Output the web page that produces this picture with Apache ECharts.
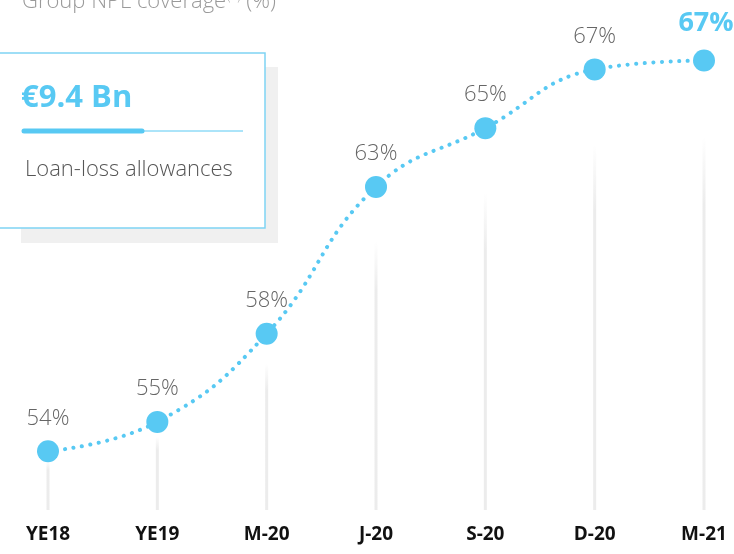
<!DOCTYPE html>
<html>
<head>
<meta charset="utf-8">
<script src="https://cdn.jsdelivr.net/npm/echarts@6/dist/echarts.min.js"></script>
<style>
  html, body { margin: 0; padding: 0; background: #ffffff; }
  #chart { width: 734px; height: 554px; }
</style>
</head>
<body>
<div id="chart"></div>
<script>
// Group NPL coverage by period (%)
const periods = ['YE18', 'YE19', 'M-20', 'J-20', 'S-20', 'D-20', 'M-21'];
const coverage = [54.0, 55.0, 58.0, 63.0, 65.0, 67.0, 67.3];

const BLUE = '#58C9F3';
const FONT_LIGHT = '"Open Sans", "Noto Sans", sans-serif';

const chart = echarts.init(document.getElementById('chart'), null, { renderer: 'canvas' });

const lastIdx = coverage.length - 1;

chart.setOption({
  backgroundColor: '#ffffff',
  animation: false,
  title: {
    left: 22,
    top: -9,
    padding: 0,
    text: '{main|Group NPL coverage}{sup|(1)}{main| (%)}',
    textStyle: {
      rich: {
        main: { fontFamily: FONT_LIGHT, fontSize: 22, fontWeight: 300, color: '#9a9a9a' },
        sup: { fontFamily: FONT_LIGHT, fontSize: 12, fontWeight: 300, color: '#9a9a9a', verticalAlign: 'top', padding: [0, 0, 9, 1] }
      }
    }
  },
  grid: { left: 48, right: 30, top: 40, bottom: 44, containLabel: false },
  xAxis: {
    type: 'category',
    data: periods,
    boundaryGap: false,
    axisLine: { show: false },
    axisTick: { show: false },
    splitLine: { show: false },
    axisLabel: {
      margin: 15,
      fontFamily: '"Open Sans", "Noto Sans", sans-serif',
      fontWeight: 'bold',
      fontSize: 19,
      color: '#111111'
    }
  },
  yAxis: {
    type: 'value',
    min: 52,
    max: 68,
    show: false
  },
  series: [
    {
      // faded vertical stems under each point
      type: 'bar',
      data: coverage,
      barWidth: 3,
      silent: true,
      z: 1,
      itemStyle: {
        color: new echarts.graphic.LinearGradient(0, 0, 0, 1, [
          { offset: 0, color: 'rgba(236,236,236,0)' },
          { offset: 0.17, color: 'rgba(236,236,236,0)' },
          { offset: 0.32, color: 'rgba(236,236,236,1)' },
          { offset: 1, color: 'rgba(236,236,236,1)' }
        ])
      }
    },
    {
      type: 'line',
      data: coverage.map((v, i) => i === lastIdx ? {
        value: v,
        label: { color: BLUE, fontSize: 27, fontWeight: 'bold', distance: 13, offset: [2, 0] }
      } : v),
      smooth: 0.45,
      z: 3,
      symbol: 'circle',
      symbolSize: 22,
      itemStyle: { color: BLUE },
      lineStyle: { color: BLUE, width: 4, type: [0.1, 8.5], cap: 'round' },
      label: {
        show: true,
        position: 'top',
        distance: 11,
        fontFamily: FONT_LIGHT,
        fontWeight: 300,
        fontSize: 22,
        color: '#666666',
        formatter: p => Math.round(p.value) + '%'
      }
    }
  ],
  graphic: [
    // card shadow
    { type: 'rect', shape: { x: 21, y: 67, width: 257, height: 176 }, style: { fill: '#f0f0f0' }, z: 10 },
    // card
    { type: 'rect', shape: { x: -2, y: 53, width: 267, height: 175 }, style: { fill: '#ffffff', stroke: '#7fd4f4', lineWidth: 1.5 }, z: 11 },
    { type: 'text', x: 21, y: 98, style: { text: '€9.4 Bn', fill: BLUE, fontSize: 31, fontWeight: 'bold', fontFamily: '"Open Sans", "Noto Sans", sans-serif', verticalAlign: 'middle' }, z: 12 },
    { type: 'line', shape: { x1: 144, y1: 131, x2: 243, y2: 131 }, style: { stroke: BLUE, lineWidth: 1 }, z: 12 },
    { type: 'line', shape: { x1: 24, y1: 131, x2: 142, y2: 131 }, style: { stroke: BLUE, lineWidth: 5, lineCap: 'round' }, z: 12 },
    { type: 'text', x: 25, y: 170, style: { text: 'Loan-loss allowances', fill: '#555555', fontSize: 22, fontWeight: 300, fontFamily: FONT_LIGHT, verticalAlign: 'middle' }, z: 12 }
  ]
});
</script>
</body>
</html>
